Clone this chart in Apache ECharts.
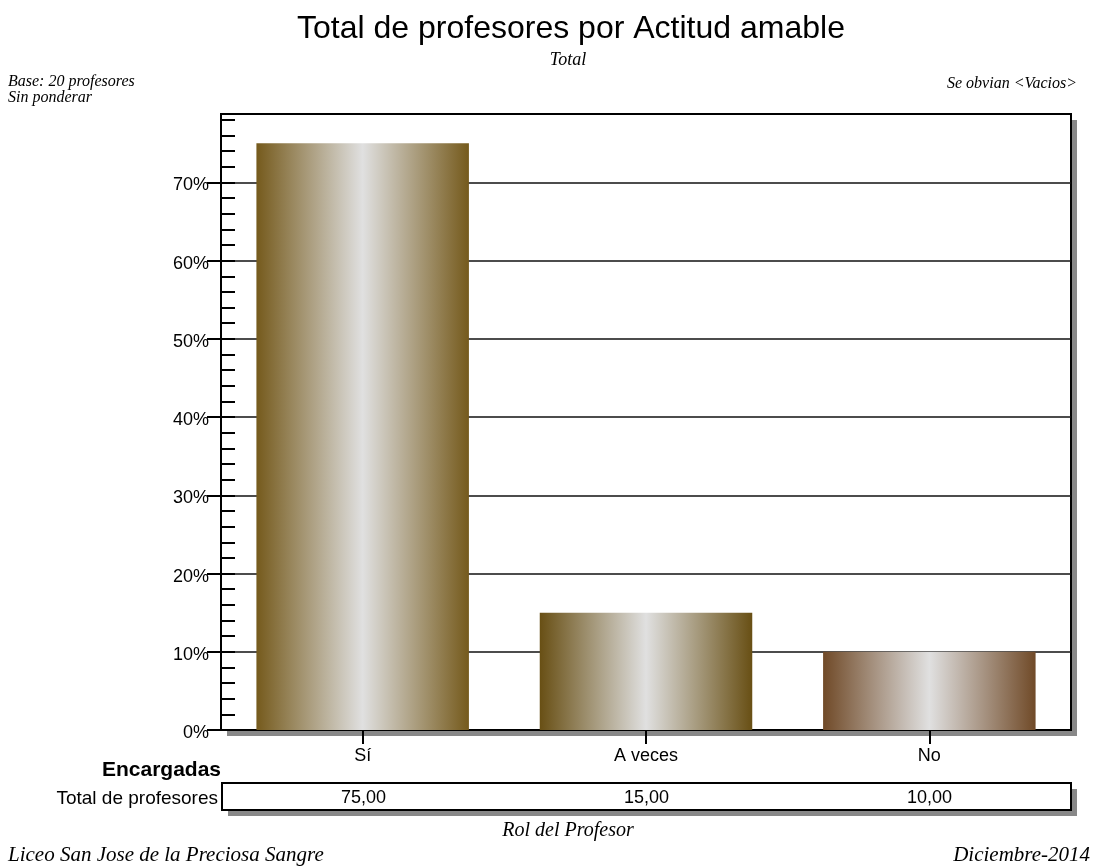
<!DOCTYPE html>
<html>
<head>
<meta charset="utf-8">
<script src="https://cdn.jsdelivr.net/npm/echarts@6/dist/echarts.min.js"></script>
<style>html,body{margin:0;padding:0;background:#fff;}#c{width:1098px;height:867px;}</style>
</head>
<body>
<div id="c"></div>
<script>
const categories = ['Sí', 'A veces', 'No'];
const values = [75, 15, 10];
const yTicks = [0, 10, 20, 30, 40, 50, 60, 70];
const yMinorTicks = [0, 2, 4, 6, 8, 10, 12, 14, 16, 18, 20, 22, 24, 26, 28, 30, 32, 34, 36, 38, 40, 42, 44, 46, 48, 50, 52, 54, 56, 58, 60, 62, 64, 66, 68, 70, 72, 74, 76, 78];
const yMax = 78.75;
const barEdgeColors = ['#755a1c', '#684f14', '#704a28'];

const SANS = '"Liberation Sans", Arial, sans-serif';
const SERIF = '"Liberation Serif", "Times New Roman", serif';

function grad(edge) {
  return new echarts.graphic.LinearGradient(0, 0, 1, 0, [
    { offset: 0, color: edge },
    { offset: 0.5, color: '#e0e0e0' },
    { offset: 1, color: edge }
  ]);
}

const plot = { left: 221, top: 114, width: 850, height: 616 };
const table = { left: 222, top: 783, width: 849, height: 27 };
const SH = 6;

const chart = echarts.init(document.getElementById('c'), null, { renderer: 'canvas' });
const gridStyle = { show: true, borderColor: '#000', borderWidth: 2, backgroundColor: '#fff' };
const option = {
  animation: false,
  backgroundColor: '#fff',
  grid: [
    Object.assign({}, plot, gridStyle),
    Object.assign({}, table, gridStyle)
  ],
  xAxis: [
    {
      type: 'category', gridIndex: 0, data: categories, position: 'bottom',
      axisLine: { show: true, lineStyle: { color: '#000', width: 2 } },
      axisTick: { show: true, alignWithLabel: true, length: 14, lineStyle: { color: '#000', width: 2 } },
      axisLabel: { fontFamily: SANS, fontSize: 18, color: '#000', margin: 17 },
      splitLine: { show: false }
    },
    {
      type: 'category', gridIndex: 0, data: categories, position: 'bottom',
      axisLine: { show: false },
      axisTick: { show: true, inside: true, alignWithLabel: true, length: 14, lineStyle: { color: '#000', width: 2 } },
      axisLabel: { show: false },
      splitLine: { show: false }
    },
    {
      type: 'category', gridIndex: 1, data: categories,
      axisLine: { show: false }, axisTick: { show: false }, axisLabel: { show: false }, splitLine: { show: false }
    }
  ],
  yAxis: [
    {
      type: 'value', gridIndex: 0, min: 0, max: yMax, interval: 10, position: 'left',
      axisLine: { show: true, lineStyle: { color: '#000', width: 2 } },
      axisTick: { show: true, length: 14, customValues: yTicks, lineStyle: { color: '#000', width: 2 } },
      axisLabel: {
        customValues: yTicks, formatter: '{value}%', fontFamily: SANS, fontSize: 18, color: '#000',
        margin: 12, verticalAlign: 'top', lineHeight: 6
      },
      splitLine: { show: true, lineStyle: { color: '#111', width: 1.6 } }
    },
    {
      type: 'value', gridIndex: 0, min: 0, max: yMax, interval: 2, position: 'left',
      axisLine: { show: false },
      axisTick: { show: true, inside: true, length: 14, customValues: yMinorTicks, lineStyle: { color: '#000', width: 2 } },
      axisLabel: { show: false },
      splitLine: { show: false }
    },
    {
      type: 'value', gridIndex: 1, min: 0, max: 1,
      axisLine: { show: false }, axisTick: { show: false }, axisLabel: { show: false }, splitLine: { show: false }
    }
  ],
  series: [
    {
      type: 'bar', xAxisIndex: 0, yAxisIndex: 0, barWidth: '75%',
      data: values.map((v, i) => ({ value: v, itemStyle: { color: grad(barEdgeColors[i]) } }))
    },
    {
      type: 'scatter', xAxisIndex: 2, yAxisIndex: 2, symbol: 'rect', symbolSize: 1,
      itemStyle: { color: '#fff', opacity: 1 },
      emphasis: { disabled: true },
      data: values.map((v, i) => [i, 0.5, v]),
      label: {
        show: true, position: 'inside', offset: [0, 2], fontFamily: SANS, fontSize: 18, color: '#000',
        formatter: p => p.value[2].toFixed(2).replace('.', ',')
      }
    }
  ],
  graphic: [
    { type: 'rect', z: -10, silent: true, shape: { x: plot.left + SH, y: plot.top + SH, width: plot.width, height: plot.height }, style: { fill: '#888' } },
    { type: 'rect', z: -10, silent: true, shape: { x: table.left + SH, y: table.top + SH, width: table.width, height: table.height }, style: { fill: '#888' } },
    { type: 'text', x: 571, y: 29, style: { text: 'Total de profesores por Actitud amable', font: '32px ' + SANS, fill: '#000', align: 'center', verticalAlign: 'middle' } },
    { type: 'text', x: 568, y: 60, style: { text: 'Total', font: 'italic 18px ' + SERIF, fill: '#000', align: 'center', verticalAlign: 'middle' } },
    { type: 'text', x: 8, y: 82, style: { text: 'Base: 20 profesores', font: 'italic 16px ' + SERIF, fill: '#000', align: 'left', verticalAlign: 'middle' } },
    { type: 'text', x: 8, y: 98, style: { text: 'Sin ponderar', font: 'italic 16px ' + SERIF, fill: '#000', align: 'left', verticalAlign: 'middle' } },
    { type: 'text', x: 1077, y: 84, style: { text: 'Se obvian <Vacios>', font: 'italic 16px ' + SERIF, fill: '#000', align: 'right', verticalAlign: 'middle' } },
    { type: 'text', x: 221, y: 770, style: { text: 'Encargadas', font: 'bold 21px ' + SANS, fill: '#000', align: 'right', verticalAlign: 'middle' } },
    { type: 'text', x: 218, y: 799, style: { text: 'Total de profesores', font: '19px ' + SANS, fill: '#000', align: 'right', verticalAlign: 'middle' } },
    { type: 'text', x: 568, y: 831, style: { text: 'Rol del Profesor', font: 'italic 20px ' + SERIF, fill: '#000', align: 'center', verticalAlign: 'middle' } },
    { type: 'text', x: 8, y: 855, style: { text: 'Liceo San Jose de la Preciosa Sangre', font: 'italic 21px ' + SERIF, fill: '#000', align: 'left', verticalAlign: 'middle' } },
    { type: 'text', x: 1090, y: 855, style: { text: 'Diciembre-2014', font: 'italic 21px ' + SERIF, fill: '#000', align: 'right', verticalAlign: 'middle' } }
  ]
};
chart.setOption(option);
</script>
</body>
</html>
